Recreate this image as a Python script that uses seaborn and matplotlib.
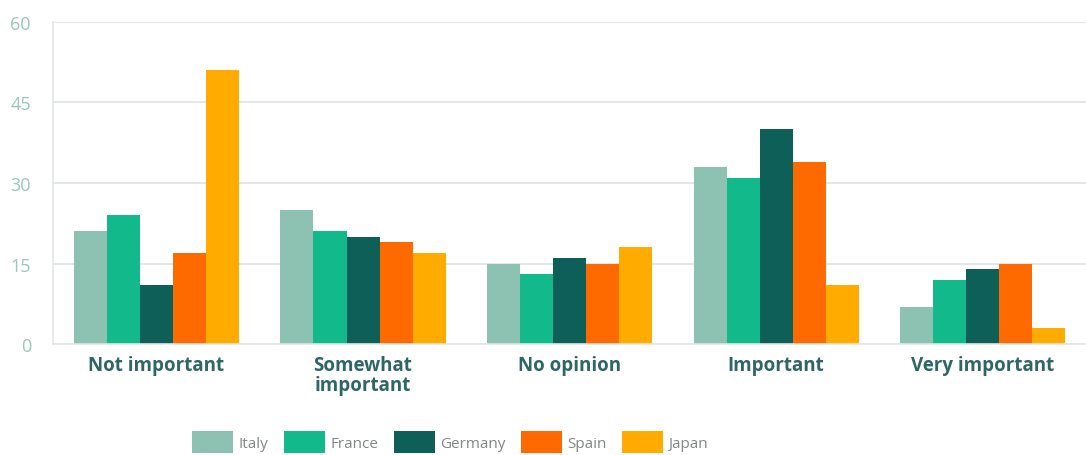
import matplotlib
matplotlib.use("Agg")
import matplotlib.pyplot as plt
import seaborn as sns
import pandas as pd

categories = ["Not important", "Somewhat\nimportant", "No opinion", "Important", "Very important"]
countries = ["Italy", "France", "Germany", "Spain", "Japan"]
italy = [21, 25, 15, 33, 7]
france = [24, 21, 13, 31, 12]
germany = [11, 20, 16, 40, 14]
spain = [17, 19, 15, 34, 15]
japan = [51, 17, 18, 11, 3]
yticks = [0, 15, 30, 45, 60]

colors = ["#8dc2b2", "#12b98b", "#0d5f58", "#ff6a00", "#ffab00"]

series = {"Italy": italy, "France": france, "Germany": germany, "Spain": spain, "Japan": japan}
rows = []
for c in countries:
    for cat, v in zip(categories, series[c]):
        rows.append({"category": cat, "country": c, "value": v})
df = pd.DataFrame(rows)

sns.set_theme(style="white")
plt.rcParams["font.family"] = ["Open Sans", "DejaVu Sans"]

fig = plt.figure(figsize=(10.86, 4.56), dpi=100)
ax = fig.add_axes([0.049, 0.243, 0.951, 0.707])

sns.barplot(data=df, x="category", y="value", hue="country", order=categories,
            hue_order=countries, palette=colors, width=0.8, saturation=1,
            edgecolor="none", linewidth=0, ax=ax, legend=True)

ax.set_ylim(0, 60)
ax.set_xlim(-0.5, 4.5)
ax.set_yticks(yticks)
ax.set_yticklabels([str(t) for t in yticks], color="#96c8b8", fontsize=13)
ax.yaxis.grid(True, color="#dfe3e3", linewidth=1.2)
ax.set_axisbelow(True)
ax.tick_params(axis="y", length=0, pad=16)
ax.tick_params(axis="x", length=0, pad=8)
for lab in ax.get_xticklabels():
    lab.set_fontweight("bold")
    lab.set_color("#2f6565")
    lab.set_fontsize(13.5)
    lab.set_linespacing(1.0)
ax.set_xlabel("")
ax.set_ylabel("")
for s in ["top", "right"]:
    ax.spines[s].set_visible(False)
ax.spines["left"].set_color("#e2e6e6")
ax.spines["left"].set_linewidth(1.2)
ax.spines["bottom"].set_color("#e2e6e6")
ax.spines["bottom"].set_linewidth(1.2)

handles, labels = ax.get_legend_handles_labels()
ax.get_legend().remove()
fig.legend(handles, labels, loc="center left", bbox_to_anchor=(192 / 1086, 1 - 443 / 456),
           ncol=5, frameon=False, fontsize=11, handlelength=2.7, handleheight=1.9,
           handletextpad=0.35, columnspacing=1.0, labelcolor="#808787", borderpad=0,
           borderaxespad=0)

fig.savefig("out.png", dpi=100, facecolor="white")
